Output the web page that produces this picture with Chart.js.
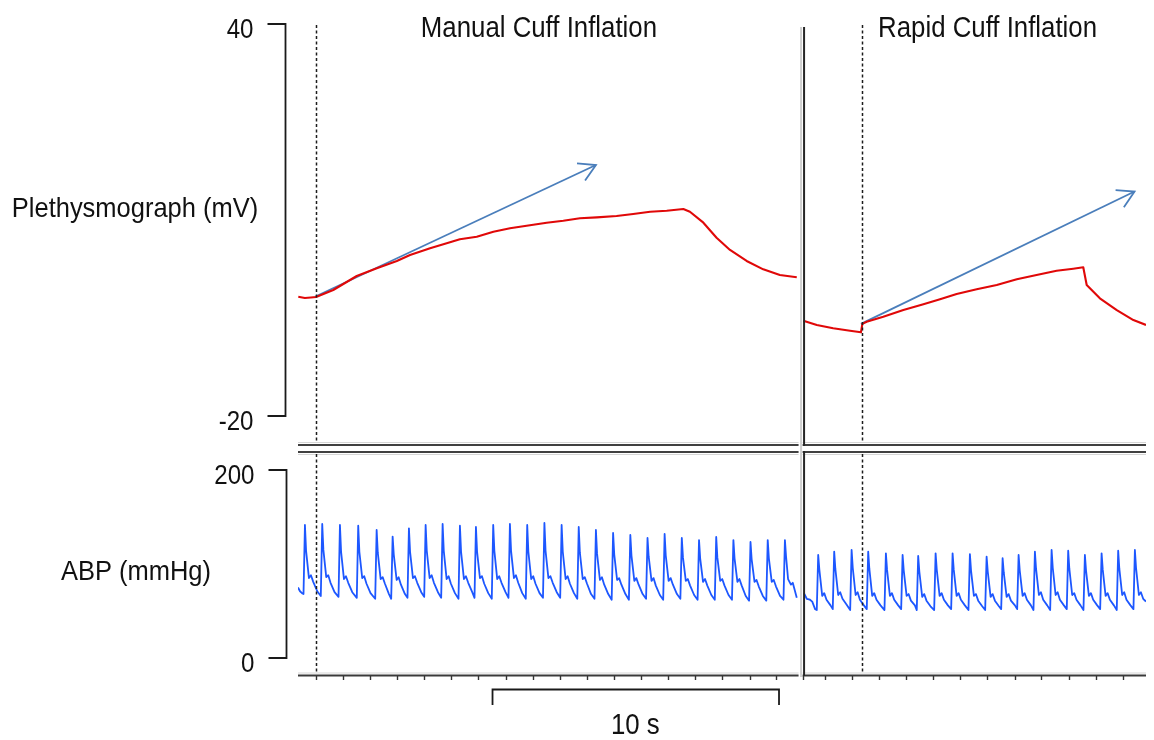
<!DOCTYPE html>
<html>
<head>
<meta charset="utf-8">
<title>Plethysmograph and ABP during cuff inflation</title>
<script src="https://cdn.jsdelivr.net/npm/chart.js@4.4.1/dist/chart.umd.min.js"></script>
<style>
  html, body { margin: 0; padding: 0; background: #ffffff; }
  canvas { display: block; }
</style>
</head>
<body>
<canvas id="trace" width="1154" height="740"></canvas>
<script>
// ---------------------------------------------------------------
// Recorded values (time in seconds from start of the recording)
// ---------------------------------------------------------------
const sectionTitles = ['Manual Cuff Inflation', 'Rapid Cuff Inflation'];
const sectionTitleTimes = [8.41, 24.07];        // centre of each heading, s
const inflationOnsets = [0.63, 19.69];          // cuff inflation start, s
const sectionBreak = 17.56;                      // end of the manual recording, s

// Plethysmograph (mV), manual inflation
const plethManualTime = [0.01, 0.24, 0.45, 0.63, 1.23, 2.05, 2.75, 3.45, 3.91, 4.61, 5.19, 5.65, 6.24, 6.82, 7.40, 7.98, 8.68, 9.26, 9.84, 10.43, 11.12, 11.70, 12.29, 12.87, 13.45, 13.68, 14.15, 14.61, 15.08, 15.66, 16.24, 16.82, 17.41];
const plethManualMV   = [-1.74, -1.94, -1.85, -1.79, -0.71, 1.43, 2.61, 3.73, 4.64, 5.67, 6.43, 7.05, 7.44, 8.21, 8.73, 9.13, 9.59, 9.89, 10.26, 10.41, 10.61, 10.92, 11.27, 11.42, 11.68, 11.27, 9.59, 7.29, 5.41, 3.73, 2.45, 1.58, 1.23];

// Plethysmograph (mV), rapid inflation
const plethRapidTime = [17.64, 18.11, 18.68, 19.27, 19.65, 19.70, 19.85, 20.43, 21.13, 21.83, 22.41, 22.99, 23.69, 24.39, 25.09, 25.78, 26.48, 27.06, 27.41, 27.53, 27.99, 28.58, 29.16, 29.60];
const plethRapidMV   = [-5.41, -6.07, -6.58, -6.94, -7.19, -5.90, -5.57, -4.80, -3.78, -2.90, -2.14, -1.33, -0.61, 0.05, 0.92, 1.58, 2.24, 2.55, 2.76, 0.05, -1.98, -3.78, -5.31, -6.07];

// Slope guides drawn over the plethysmograph rise: [time s, mV]
const slopeManual = [[0.59, -1.74], [10.40, 18.42]];
const slopeRapid  = [[19.65, -5.90], [29.20, 14.36]];

// Arterial blood pressure (mmHg), manual inflation: [time s, mmHg]
const abpManual = [
  [0.00,75],[0.07,71],[0.14,69],
  [0.192,68],[0.242,141.5],[0.282,114],[0.382,85],[0.452,88],[0.532,81],[0.672,71],
  [0.796,66],[0.846,142.6],[0.886,115],[0.986,86],[1.056,88],[1.136,80],[1.276,70],
  [1.414,65],[1.464,141.5],[1.504,113],[1.604,84],[1.674,87],[1.754,80],[1.894,70],
  [2.052,64],[2.102,140.7],[2.142,113],[2.242,85],[2.312,87],[2.392,79],[2.532,69],
  [2.695,63],[2.745,136.2],[2.785,112],[2.885,84],[2.955,86],[3.035,79],[3.175,68],
  [3.253,63],[3.303,129.1],[3.343,110],[3.443,83],[3.513,86],[3.593,78],[3.733,68],
  [3.822,64],[3.872,138],[3.912,113],[4.012,85],[4.082,87],[4.162,80],[4.302,70],
  [4.405,65],[4.455,141.5],[4.495,114],[4.595,85],[4.665,88],[4.745,80],[4.885,70],
  [4.998,64],[5.048,142.6],[5.088,114],[5.188,84],[5.258,87],[5.338,79],[5.478,69],
  [5.602,63],[5.652,140.7],[5.692,113],[5.792,84],[5.862,87],[5.942,80],[6.082,70],
  [6.161,64],[6.211,139.4],[6.251,113],[6.351,85],[6.421,87],[6.501,79],[6.641,69],
  [6.764,63],[6.814,141.5],[6.854,114],[6.954,84],[7.024,87],[7.104,80],[7.244,70],
  [7.347,64],[7.397,142.6],[7.437,114],[7.537,85],[7.607,88],[7.687,80],[7.827,69],
  [7.951,63],[8.001,141.5],[8.041,113],[8.141,84],[8.211,87],[8.291,79],[8.431,69],
  [8.551,64],[8.601,143.6],[8.641,114],[8.741,85],[8.811,87],[8.891,80],[9.031,70],
  [9.152,64],[9.202,141.5],[9.242,113],[9.342,84],[9.412,87],[9.492,79],[9.632,69],
  [9.749,63],[9.799,139.4],[9.839,112],[9.939,84],[10.009,86],[10.089,79],[10.229,68],
  [10.349,63],[10.399,136.2],[10.439,111],[10.539,83],[10.609,86],[10.689,78],[10.829,68],
  [10.949,62],[10.999,133],[11.039,110],[11.139,83],[11.209,85],[11.289,78],[11.429,68],
  [11.55,62],[11.6,130.9],[11.64,109],[11.74,82],[11.81,85],[11.89,78],[12.03,68],
  [12.15,63],[12.2,127.7],[12.24,108],[12.34,82],[12.41,85],[12.49,77],[12.63,67],
  [12.747,62],[12.797,131.9],[12.837,109],[12.937,82],[13.007,85],[13.087,78],[13.227,68],
  [13.347,63],[13.397,127.7],[13.437,107],[13.537,82],[13.607,84],[13.687,77],[13.827,67],
  [13.948,62],[13.998,125.5],[14.038,106],[14.138,81],[14.208,84],[14.288,77],[14.428,67],
  [14.548,62],[14.598,128.7],[14.638,107],[14.738,82],[14.808,84],[14.888,77],[15.028,67],
  [15.148,62],[15.198,125.5],[15.238,106],[15.338,81],[15.408,84],[15.488,77],[15.628,66],
  [15.745,61],[15.795,123.4],[15.835,105],[15.935,81],[16.005,83],[16.085,76],[16.225,66],
  [16.346,61],[16.396,125.5],[16.436,106],[16.536,81],[16.606,83],[16.686,76],[16.826,66],
  [16.946,62],[16.996,125.5],[17.036,108],[17.106,84],[17.206,78],[17.27,80],[17.41,64]
];

// Arterial blood pressure (mmHg), rapid inflation: [time s, mmHg]
const abpRapid = [
  [17.66,69],[17.76,63],[17.87,62],[17.95,60],[18.05,52],
  [18.108,51],[18.158,109.6],[18.198,94],[18.298,66],[18.368,69],[18.448,62],[18.588,56],
  [18.666,52],[18.716,113.1],[18.756,95],[18.856,67],[18.926,70],[19.006,63],[19.146,57],
  [19.274,51],[19.324,114.9],[19.364,96],[19.464,67],[19.534,70],[19.614,62],[19.754,56],
  [19.853,52],[19.903,113.1],[19.943,95],[20.043,66],[20.113,69],[20.193,62],[20.333,56],
  [20.471,51],[20.521,111.4],[20.561,94],[20.661,66],[20.731,69],[20.811,62],[20.951,56],
  [21.054,52],[21.104,109.6],[21.144,93],[21.244,66],[21.314,68],[21.394,61],[21.534,56],
  [21.598,51],[21.648,108.5],[21.688,92],[21.788,65],[21.858,68],[21.938,61],[22.078,55],
  [22.206,51],[22.256,111.4],[22.296,94],[22.396,66],[22.466,69],[22.546,62],[22.686,56],
  [22.799,52],[22.849,111.4],[22.889,94],[22.989,66],[23.059,69],[23.139,62],[23.279,56],
  [23.403,51],[23.453,110.6],[23.493,93],[23.593,66],[23.663,68],[23.743,61],[23.883,55],
  [23.986,51],[24.036,107.8],[24.076,92],[24.176,65],[24.246,68],[24.326,61],[24.466,55],
  [24.545,52],[24.595,106.1],[24.635,91],[24.735,65],[24.805,68],[24.885,61],[25.025,56],
  [25.103,52],[25.153,109.6],[25.193,93],[25.293,66],[25.363,69],[25.443,62],[25.583,56],
  [25.672,51],[25.722,113.1],[25.762,95],[25.862,67],[25.932,70],[26.012,62],[26.152,56],
  [26.255,51],[26.305,114.9],[26.345,96],[26.445,67],[26.515,70],[26.595,62],[26.735,56],
  [26.834,52],[26.884,114.1],[26.924,95],[27.024,67],[27.094,69],[27.174,62],[27.314,56],
  [27.417,51],[27.467,109.6],[27.507,93],[27.607,66],[27.677,69],[27.757,62],[27.897,56],
  [28.000,52],[28.050,111.4],[28.090,94],[28.190,66],[28.260,69],[28.340,62],[28.480,56],
  [28.579,51],[28.629,114.1],[28.669,95],[28.769,67],[28.839,70],[28.919,62],[29.059,56],
  [29.162,52],[29.212,114.9],[29.252,96],[29.352,67],[29.422,70],[29.502,63],[29.599,60]
];

// Axis marks
const timeTicks = [0.63, 1.57, 2.52, 3.46, 4.41, 5.35, 6.30, 7.25, 8.19, 9.14, 10.08, 11.03, 11.97, 12.92, 13.86, 14.81, 15.76, 16.70,
                   17.63, 18.39, 19.34, 20.28, 21.23, 22.17, 23.12, 24.06, 25.01, 25.95, 26.90, 27.85, 28.79];
const plethTicks = [40, -20];
const abpTicks = [200, 0];
const plethLabel = 'Plethysmograph (mV)';
const abpLabel = 'ABP (mmHg)';
const scaleBarStart = 6.79;    // s
const scaleBarSeconds = 10;    // s
const scaleBarLabel = '10 s';

// ---------------------------------------------------------------
// Styling
// ---------------------------------------------------------------
const RED = '#e00808';
const BLUE = '#1d57ff';
const GUIDE = '#4a7ebb';
const INK = '#1a1a1a';
const FONT = '"Liberation Sans", Arial, Helvetica, sans-serif';

const toXY = (t, v) => t.map((x, i) => ({ x, y: v[i] }));
const pairs = rows => rows.map(r => ({ x: r[0], y: r[1] }));

// Condensed text: the sans face squeezed horizontally about its anchor
function label(ctx, text, x, y, size, squeeze, align) {
  ctx.save();
  ctx.font = size + 'px ' + FONT;
  ctx.fillStyle = '#111';
  ctx.textAlign = align;
  ctx.textBaseline = 'alphabetic';
  ctx.translate(x, y);
  ctx.scale(squeeze, 1);
  ctx.fillText(text, 0, 0);
  ctx.restore();
}

function line(ctx, x1, y1, x2, y2, color, width) {
  ctx.strokeStyle = color;
  ctx.lineWidth = width;
  ctx.beginPath();
  ctx.moveTo(x1, y1);
  ctx.lineTo(x2, y2);
  ctx.stroke();
}

// Panel frames, dividers, brackets, arrowheads and text
const frame = {
  id: 'frame',
  afterDatasetsDraw(chart) {
    const { ctx, chartArea: a, scales } = chart;
    const xs = scales.x, yP = scales.yP, yA = scales.yA;
    const splitX = xs.getPixelForValue(sectionBreak);
    const leftEnd = splitX - 2.5, rightStart = splitX + 1.5;
    const upperBottom = 445, lowerTop = 452;

    ctx.save();
    ctx.lineCap = 'butt';

    // horizontal split between the two traces
    [[a.left, leftEnd], [rightStart, a.right]].forEach(([x1, x2]) => {
      line(ctx, x1, upperBottom - 2.5, x2, upperBottom - 2.5, '#d6d6d6', 1);
      line(ctx, x1, upperBottom, x2, upperBottom, '#404040', 2);
      line(ctx, x1, lowerTop, x2, lowerTop, '#404040', 2);
      line(ctx, x1, lowerTop + 2.5, x2, lowerTop + 2.5, '#d6d6d6', 1);
      // time axis
      line(ctx, x1, a.bottom - 2, x2, a.bottom - 2, '#d6d6d6', 1);
      line(ctx, x1, a.bottom + 0.5, x2, a.bottom + 0.5, '#3a3a3a', 2);
    });

    // vertical split between the two recordings
    line(ctx, splitX, a.top + 3, splitX, a.bottom + 2, '#cfcfcf', 2);
    line(ctx, splitX + 3, a.top + 3, splitX + 3, upperBottom + 1, '#262626', 2);
    line(ctx, splitX + 3, lowerTop - 1, splitX + 3, a.bottom + 1, '#262626', 2);

    // time ticks
    timeTicks.forEach(t => {
      const px = Math.round(xs.getPixelForValue(t)) + 0.5;
      line(ctx, px, a.bottom + 1, px, a.bottom + 5, '#333', 1.4);
    });

    // inflation markers
    ctx.setLineDash([3, 2.5]);
    inflationOnsets.forEach(t => {
      const px = Math.round(xs.getPixelForValue(t)) + 0.5;
      line(ctx, px, a.top + 1, px, upperBottom - 4, '#1c1c1c', 1.5);
      line(ctx, px, lowerTop + 2, px, a.bottom - 1, '#1c1c1c', 1.5);
    });
    ctx.setLineDash([]);

    // slope guide arrowheads
    [slopeManual, slopeRapid].forEach(g => {
      const x0 = xs.getPixelForValue(g[0][0]), y0 = yP.getPixelForValue(g[0][1]);
      const x1 = xs.getPixelForValue(g[1][0]), y1 = yP.getPixelForValue(g[1][1]);
      const ang = Math.atan2(y0 - y1, x0 - x1);
      const len = 19, spread = Math.PI / 6;
      ctx.strokeStyle = GUIDE;
      ctx.lineWidth = 1.8;
      ctx.lineJoin = 'miter';
      ctx.beginPath();
      ctx.moveTo(x1 + len * Math.cos(ang + spread), y1 + len * Math.sin(ang + spread));
      ctx.lineTo(x1, y1);
      ctx.lineTo(x1 + len * Math.cos(ang - spread), y1 + len * Math.sin(ang - spread));
      ctx.stroke();
    });

    // y brackets with end ticks and values
    const bracket = (scale, ticks, bx) => {
      const yTop = scale.getPixelForValue(ticks[0]);
      const yBot = scale.getPixelForValue(ticks[1]);
      ctx.strokeStyle = INK;
      ctx.lineWidth = 1.8;
      ctx.lineJoin = 'miter';
      ctx.beginPath();
      ctx.moveTo(bx - 18, yTop);
      ctx.lineTo(bx, yTop);
      ctx.lineTo(bx, yBot);
      ctx.lineTo(bx - 18, yBot);
      ctx.stroke();
      ticks.forEach(v => {
        label(ctx, String(v), bx - 32, scale.getPixelForValue(v) + 14, 28, 0.86, 'right');
      });
    };
    bracket(yP, plethTicks, 285.5);
    bracket(yA, abpTicks, 286.5);

    // trace names
    label(ctx, plethLabel, 135, 217, 28, 0.91, 'center');
    label(ctx, abpLabel, 136, 580, 28, 0.91, 'center');

    // section headings
    sectionTitles.forEach((s, i) => {
      label(ctx, s, xs.getPixelForValue(sectionTitleTimes[i]), 37, 30, 0.86, 'center');
    });

    // time scale bar
    const sb0 = xs.getPixelForValue(scaleBarStart);
    const sb1 = xs.getPixelForValue(scaleBarStart + scaleBarSeconds);
    ctx.strokeStyle = INK;
    ctx.lineWidth = 1.8;
    ctx.beginPath();
    ctx.moveTo(sb0, 705);
    ctx.lineTo(sb0, 689.5);
    ctx.lineTo(sb1, 689.5);
    ctx.lineTo(sb1, 705);
    ctx.stroke();
    label(ctx, scaleBarLabel, (sb0 + sb1) / 2 - 0.5, 734, 30, 0.86, 'center');

    ctx.restore();
  }
};

const traceStyle = (color, width) => ({
  borderColor: color,
  borderWidth: width,
  pointRadius: 0,
  fill: false,
  tension: 0,
  borderJoinStyle: 'round'
});

new Chart(document.getElementById('trace'), {
  type: 'line',
  data: {
    datasets: [
      { label: 'Plethysmograph manual', data: toXY(plethManualTime, plethManualMV), yAxisID: 'yP', ...traceStyle(RED, 2.1) },
      { label: 'Plethysmograph rapid', data: toXY(plethRapidTime, plethRapidMV), yAxisID: 'yP', ...traceStyle(RED, 2.1) },
      { label: 'ABP manual', data: pairs(abpManual), yAxisID: 'yA', ...traceStyle(BLUE, 1.8) },
      { label: 'ABP rapid', data: pairs(abpRapid), yAxisID: 'yA', ...traceStyle(BLUE, 1.8) },
      { label: 'Slope manual', data: pairs(slopeManual), yAxisID: 'yP', ...traceStyle(GUIDE, 1.8) },
      { label: 'Slope rapid', data: pairs(slopeRapid), yAxisID: 'yP', ...traceStyle(GUIDE, 1.8) }
    ]
  },
  options: {
    responsive: false,
    animation: false,
    devicePixelRatio: 1,
    layout: { padding: { left: 298, right: 8, top: 24, bottom: 65 } },
    plugins: { legend: { display: false }, tooltip: { enabled: false }, title: { display: false } },
    scales: {
      x:  { type: 'linear', min: 0, max: 29.6, display: false },
      yP: { type: 'linear', min: -59.64, max: 40, display: false },
      yA: { type: 'linear', min: -18.09, max: 674.47, display: false }
    }
  },
  plugins: [frame]
});
</script>
</body>
</html>
